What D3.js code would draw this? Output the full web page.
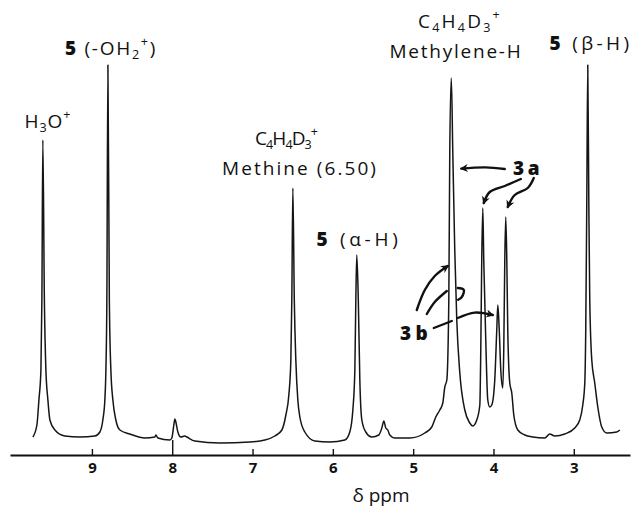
<!DOCTYPE html>
<html><head><meta charset="utf-8">
<script src="https://cdn.jsdelivr.net/npm/d3@7"></script>
<style>body{margin:0;background:#fff} svg{display:block}</style>
</head><body>
<svg id="c" width="643" height="509"></svg>
<script>
// ---- spectrum trace (chemical shift, relative intensity) ----
const ppm = [9.735,9.685,9.660,9.635,9.623,9.611,9.592,9.573,9.548,9.523,9.461,9.337,9.150,8.963,8.901,8.864,8.839,8.826,8.814,8.801,8.783,8.764,8.739,8.702,8.652,8.528,8.341,8.216,8.204,8.179,8.030,8.005,7.980,7.967,7.955,7.930,7.893,7.843,7.818,7.718,7.407,7.034,6.847,6.722,6.635,6.585,6.548,6.523,6.511,6.498,6.480,6.461,6.436,6.411,6.349,6.224,6.038,5.851,5.789,5.751,5.726,5.714,5.702,5.683,5.664,5.639,5.590,5.515,5.428,5.390,5.365,5.341,5.316,5.291,5.229,5.042,4.855,4.768,4.718,4.668,4.631,4.606,4.581,4.556,4.544,4.525,4.507,4.482,4.457,4.419,4.357,4.295,4.258,4.208,4.170,4.158,4.146,4.133,4.121,4.096,4.071,4.046,4.021,3.984,3.959,3.946,3.928,3.909,3.884,3.872,3.859,3.847,3.834,3.822,3.797,3.772,3.747,3.697,3.610,3.511,3.361,3.299,3.237,3.112,2.988,2.926,2.888,2.863,2.851,2.838,2.826,2.813,2.801,2.776,2.739,2.701,2.652,2.589,2.465,2.427];
const intensity = [4.5,7.5,13.75,21.25,38.75,78.75,38.75,21.25,13.75,8.75,6.25,4.75,4.5,4.75,5.75,8.75,13.75,21.25,38.75,97.5,38.75,21.25,13.75,8.75,6.25,5.25,4.25,4.5,5,4.25,3.75,4.25,7.5,9,8.25,5.75,4.5,4.75,4.5,3.5,3,3.25,3.75,4.75,6.25,10,15,23.75,38.75,66.75,38.75,23.75,13.75,9.5,5.75,3.5,3.25,3.75,5.75,11.25,21.25,38.75,50,38.75,18.75,8.75,5.75,4.5,5,6.75,8.5,6.75,6.25,5,4.25,4.25,5.5,7,9.5,11.25,13,17,18.75,38.75,76.25,94.25,76.25,51.25,33.75,20.5,11.25,8,7.25,8.75,12.5,26.25,48.75,61.75,48.75,28.75,13.75,12,12.5,18.75,31.25,37.5,31.25,21.25,16.75,26.25,48.75,59.5,48.75,31.25,18,15.5,10,6.25,5,4.5,4.25,5.25,4.75,5.25,6.75,8.75,12.5,18,31.25,63.75,97.5,63.75,38.75,23.75,18,12,7,5.5,5.75,6.25];

// ---- axis ----
const xTicks = [9,8,7,6,5,4,3];
const xTickLabels = ["9","8","7","6","5","4","3"];
const axisTitle = "δ ppm";

// ---- peak labels (markup: _x subscript, ^x superscript, *bold*) ----
const labelTexts = ["H_3O^+", "*5* (-OH_2^+)", "C_4H_4D_3^+", "Methine (6.50)", "*5* (α-H)",
                    "C_4H_4D_3^+", "Methylene-H", "*5* (β-H)", "*3a*", "*3b*"];

// ---- hand-drawn annotation arrows, in data space [ppm, intensity] ----
const arrow3aToMethylene = [[3.859,71.5],[4.10,71.9],[4.40,71.6]];
const arrow3aFirst  = [[3.660,69],[3.859,67.25],[4.046,65.75],[4.121,63]];
const arrow3aSecond = [[3.498,69.25],[3.573,66.75],[3.735,65],[3.822,62]];
const arrow3bUpper  = [[4.955,36.25],[4.855,41.25],[4.731,44.75],[4.569,47.25]];
const arrow3bMiddle = [[4.830,35.25],[4.731,38.25],[4.581,41]];
const stroke3bLower = [[4.743,31.75],[4.519,33.5]];
const arrow3bRight  = [[4.444,34.25],[4.233,35.6],[4.009,35]];
const hook3b        = [[4.444,41.75],[4.370,41.3],[4.394,39.5],[4.440,38.8]];

// ------------------------------------------------------------------
const svg = d3.select("#c");
const axisY = 455;
const x = d3.scaleLinear().domain([10.02, 2.30]).range([10, 630]);
const y = d3.scaleLinear().domain([0, 100]).range([axisY, 55]);
const FONT = "'Open Sans', 'DejaVu Sans', sans-serif";

svg.append("defs").append("marker")
  .attr("id","ah").attr("viewBox","0 0 10 10").attr("refX",8).attr("refY",5)
  .attr("markerWidth",3.4).attr("markerHeight",3.4).attr("orient","auto")
  .append("path").attr("d","M0,0 L10,5 L0,10 L3,5 Z").attr("fill","#111");

// trace
const pts = ppm.map((p,i)=>[p,intensity[i]]);
svg.append("path")
  .datum(pts)
  .attr("fill","none").attr("stroke","#151515").attr("stroke-width",1.5)
  .attr("stroke-linejoin","round")
  .attr("d", d3.line().x(d=>x(d[0])).y(d=>y(d[1])).curve(d3.curveMonotoneX));

// axis
const ax = svg.append("g").attr("transform",`translate(0,${axisY})`)
  .call(d3.axisBottom(x).tickValues(xTicks).tickFormat((d,i)=>xTickLabels[i])
        .tickSizeInner(-6).tickSizeOuter(0).tickPadding(7));
ax.select(".domain").attr("stroke","#111").attr("stroke-width",1.8);
ax.selectAll(".tick line").attr("stroke","#111").attr("stroke-width",1.4);
ax.selectAll(".tick").filter(d=>d===8).select("line").attr("y2",-15);
ax.selectAll(".tick text").attr("font-family",FONT).attr("font-size",15)
  .attr("font-weight",700).attr("fill","#111");

svg.append("text").attr("x",381).attr("y",502).attr("text-anchor","middle")
  .attr("font-family",FONT).attr("font-size",19).attr("font-weight",500)
  .attr("fill","#111").text(axisTitle);

// labels
function parse(s){
  const segs=[]; let bold=false, i=0, buf="";
  const flush=()=>{ if(buf){segs.push({t:buf,b:bold,s:0}); buf="";} };
  while(i<s.length){
    const c=s[i];
    if(c==="*"){flush(); bold=!bold; i++;}
    else if(c==="_"){flush(); segs.push({t:s[i+1],b:bold,s:1}); i+=2;}
    else if(c==="^"){flush(); segs.push({t:s[i+1],b:bold,s:-1}); i+=2;}
    else {buf+=c; i++;}
  }
  flush(); return segs;
}
// [center x, baseline y, target width]
const layout = [[48,128,47],[111,55,92],[286,145,62],[300,175,156],[359,246,85],
                [460,28,84],[456,58,133],[591,50,83],[528,175,30],[416,340,32]];
labelTexts.forEach((s,k)=>{
  const [cx,by,tw]=layout[k];
  const fs = 19;
  const t = svg.append("text").attr("x",cx).attr("y",by).attr("text-anchor","middle")
    .attr("font-family",FONT).attr("font-size",fs).attr("fill","#111");
  let prev=0, n=0;
  parse(s).forEach(seg=>{
    const shift = seg.s===1 ? 0.22*fs : seg.s===-1 ? -0.45*fs : 0;
    t.append("tspan").attr("dy",shift-prev)
      .attr("font-size", seg.s? fs*0.66 : fs)
      .attr("font-weight", seg.b? 800 : 500).text(seg.t);
    prev=shift; n+=seg.t.length;
  });
  const w = t.node().getComputedTextLength();
  if(n>1) t.attr("letter-spacing", ((tw-w)/n).toFixed(2));
});

// arrows
const aline = d3.line().x(d=>x(d[0])).y(d=>y(d[1])).curve(d3.curveCatmullRom);
[[arrow3aToMethylene,true],[arrow3aFirst,true],[arrow3aSecond,true],[arrow3bUpper,true],
 [arrow3bMiddle,false],[stroke3bLower,false],[arrow3bRight,true],[hook3b,false]].forEach(([a,head])=>{
  const p = svg.append("path").attr("d",aline(a)).attr("fill","none")
    .attr("stroke","#111").attr("stroke-width",2.4).attr("stroke-linecap","round");
  if(head) p.attr("marker-end","url(#ah)");
});
</script>
</body></html>
